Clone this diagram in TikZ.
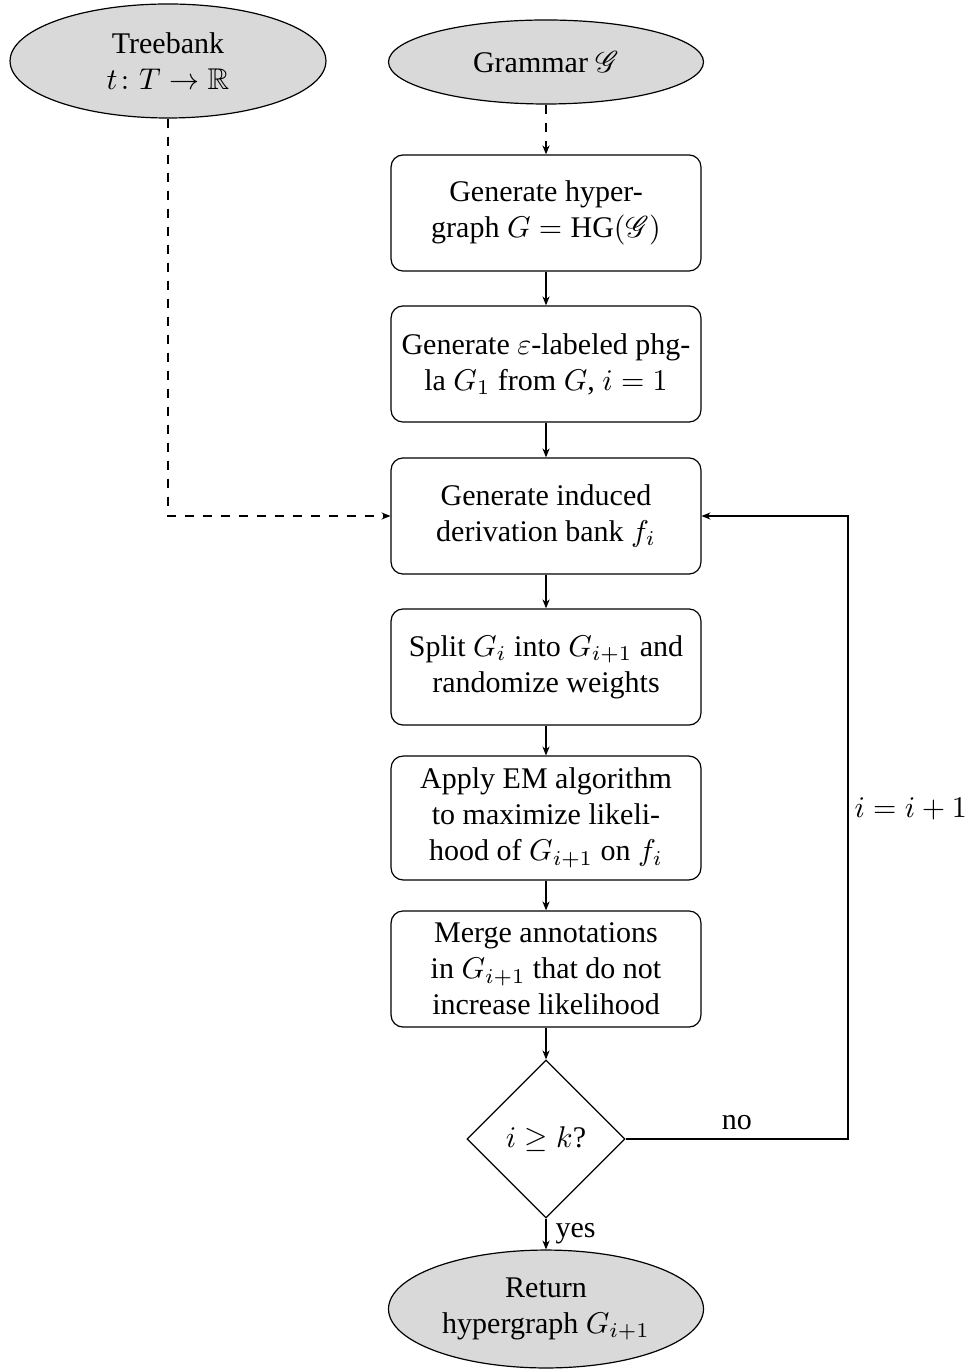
\documentclass[tikz,border=0pt]{standalone}
\usepackage{amsmath,amssymb,mathrsfs}
\usepackage{fontspec}
\setmainfont{Liberation Serif}
\usetikzlibrary{shapes.geometric,arrows.meta}
\tikzset{
  startstop/.style={ellipse,draw,fill=gray!30,inner sep=0pt,align=center,font=\fontsize{10}{12}\selectfont},
  procbox/.style={rectangle,draw,rounded corners=4pt,minimum width=103.3pt,minimum height=38.7pt,inner sep=0pt,align=center,font=\fontsize{10}{12}\selectfont},
  decision/.style={diamond,draw,minimum width=52.7pt,minimum height=52.7pt,inner sep=0pt,aspect=1,font=\fontsize{10}{12}\selectfont},
  arr/.style={-{Stealth[length=3pt,width=2.4pt]},line width=0.35pt},
  lbl/.style={font=\fontsize{10}{12}\selectfont,inner sep=3pt}
}
\begin{document}
\begin{tikzpicture}[x=0.33333pt,y=-0.33333pt]
\useasboundingbox (0,0) rectangle (967,1370);
\node[startstop,minimum width=105.3pt,minimum height=38pt] (tb) at (168,61) {Treebank\\$t\colon T\to\mathbb{R}$};
\node[startstop,minimum width=105pt,minimum height=28pt] (gr) at (546,62) {Grammar $\mathscr{G}$};
\node[procbox] (b1) at (546,213) {Generate hyper-\\graph $G=\mathrm{HG}(\mathscr{G})$};
\node[procbox] (b2) at (546,364) {Generate $\varepsilon$-labeled phg-\\la $G_1$ from $G$, $i=1$};
\node[procbox] (b3) at (546,516) {Generate induced\\derivation bank $f_i$};
\node[procbox] (b4) at (546,667) {Split $G_i$ into $G_{i+1}$ and\\randomize weights};
\node[procbox,minimum height=41.3pt] (b5) at (546,818) {Apply EM algorithm\\to maximize likeli-\\hood of $G_{i+1}$ on $f_i$};
\node[procbox] (b6) at (546,969) {Merge annotations\\in $G_{i+1}$ that do not\\increase likelihood};
\node[decision] (d) at (546,1139) {$i\geq k$?};
\node[startstop,minimum width=105pt,minimum height=39.3pt] (ret) at (546,1309) {Return\\hypergraph $G_{i+1}$};
\coordinate (c1) at (848,1139);
\coordinate (c2) at (848,516);
\coordinate (c3) at (168,516);

\draw[arr,dashed] (gr) -- (b1);
\draw[arr] (b1) -- (b2);
\draw[arr] (b2) -- (b3);
\draw[arr] (b3) -- (b4);
\draw[arr] (b4) -- (b5);
\draw[arr] (b5) -- (b6);
\draw[arr] (b6) -- (d);
\draw[arr] (d) -- node[lbl,right] {yes} (ret);
\draw[arr] (d.east) -- node[lbl,above,pos=0.5] {no} (c1) -- node[lbl,right,pos=0.53,inner sep=2pt] {$i=i+1$} (c2) -- (b3.east);
\draw[arr,dashed] (tb.south) -- (c3) -- (b3.west);
\end{tikzpicture}
\end{document}
